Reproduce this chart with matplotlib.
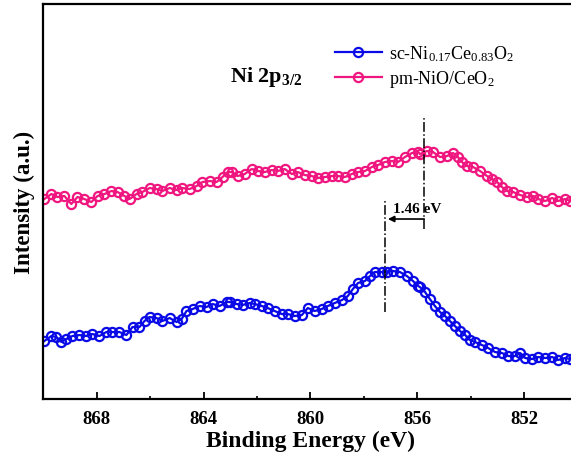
import matplotlib
matplotlib.use("Agg")
import matplotlib.pyplot as plt
from matplotlib.ticker import MultipleLocator

# binding energy (eV) and intensity (a.u.)
pm_energy = [
    869.96, 869.70, 869.47, 869.21, 868.95, 868.72, 868.46, 868.20, 867.97, 867.71,
    867.45, 867.22, 866.96, 866.77, 866.51, 866.29, 866.02, 865.76, 865.54, 865.27,
    865.01, 864.79, 864.52, 864.26, 864.04, 863.77, 863.51, 863.29, 863.10,
    862.95, 862.72, 862.46, 862.20, 861.97, 861.71, 861.45, 861.22, 860.96, 860.70,
    860.47, 860.21, 859.95, 859.72, 859.46, 859.20, 858.97, 858.71, 858.45, 858.22,
    857.96, 857.70, 857.47, 857.21, 856.95, 856.72, 856.46, 856.20, 855.97,
    855.90, 855.64, 855.41, 855.15, 854.89, 854.66, 854.48, 854.33, 854.14, 853.91,
    853.65, 853.39, 853.20, 853.01, 852.83, 852.64, 852.41, 852.15, 851.89, 851.66,
    851.48, 851.21, 850.95, 850.73, 850.46, 850.28,
]
pm_intensity = [
    200, 205, 202, 203, 195, 202, 200, 197, 203, 205,
    208, 207, 203, 200, 205, 207, 211, 210, 208, 211,
    209, 211, 210, 213, 217, 218, 217, 222, 227,
    227, 223, 225, 230, 228, 227, 229, 228, 230, 225,
    227, 224, 223, 221, 222, 223, 223, 222, 225, 227,
    228, 232, 234, 237, 238, 237, 242, 246, 247,
    245, 248, 247, 242, 243, 246, 242, 237, 233, 232,
    228, 223, 220, 217, 212, 208, 207, 204, 202, 203,
    200, 198, 201, 198, 200, 198,
]

sc_energy = [
    869.96, 869.70, 869.51, 869.32, 869.14, 868.91, 868.65, 868.39, 868.16, 867.90,
    867.64, 867.41, 867.15, 866.89, 866.66, 866.40, 866.21, 866.02, 865.76, 865.54,
    865.27, 865.01, 864.82, 864.64, 864.41, 864.15, 863.89, 863.66, 863.40, 863.14,
    863.02, 862.76, 862.54, 862.27, 862.09, 861.82, 861.60, 861.34, 861.07, 860.85,
    860.59, 860.32, 860.10, 859.84, 859.58, 859.35, 859.09, 858.82, 858.60, 858.41,
    858.22, 857.96, 857.77, 857.59, 857.32, 857.14, 856.91, 856.65, 856.39, 856.16,
    855.97,
    855.90, 855.71, 855.53, 855.34, 855.15, 854.96, 854.78, 854.59, 854.40, 854.21,
    854.03, 853.84, 853.58, 853.35, 853.09, 852.83, 852.60, 852.34, 852.15, 851.96,
    851.70, 851.48, 851.21, 850.95, 850.73, 850.46, 850.28,
]
sc_intensity = [
    58, 63, 62, 57, 60, 63, 64, 63, 65, 63,
    67, 67, 67, 64, 72, 72, 78, 82, 81, 78,
    81, 77, 80, 88, 90, 93, 92, 95, 93, 97,
    97, 95, 94, 96, 95, 93, 91, 88, 85, 85,
    83, 84, 91, 88, 90, 93, 96, 99, 103, 110,
    116, 118, 123, 127, 127, 127, 128, 127, 123, 118,
    113,
    112, 107, 100, 93, 87, 83, 78, 73, 68, 64,
    59, 57, 54, 51, 47, 46, 43, 43, 46, 41,
    40, 42, 41, 42, 39, 41, 40,
]

sc_peak = 857.20
pm_peak = 855.74
shift_label = "1.46 eV"

plt.rcParams["font.family"] = ["Liberation Serif", "DejaVu Serif"]
plt.rcParams["mathtext.fontset"] = "custom"
plt.rcParams["mathtext.rm"] = "Liberation Serif"
plt.rcParams["mathtext.it"] = "Liberation Serif:italic"
plt.rcParams["mathtext.bf"] = "Liberation Serif:bold"

BLUE = "#0A0AE6"
PINK = "#F0167F"

fig = plt.figure(figsize=(5.71, 4.64), dpi=100)
ax = fig.add_axes([0.0758, 0.1379, 0.9357, 0.8513])

marker_kw = dict(marker="o", markersize=6.6, markerfacecolor="none",
                 markeredgewidth=1.6, linewidth=1.6)
ax.plot(sc_energy, sc_intensity, color=BLUE,
        label=r"sc-Ni$_\mathregular{0.17}$Ce$_\mathregular{0.83}$O$_\mathregular{2}$",
        **marker_kw)
ax.plot(pm_energy, pm_intensity, color=PINK,
        label=r"pm-NiO/CeO$_\mathregular{2}$", **marker_kw)

# peak position markers and shift arrow
ax.plot([pm_peak, pm_peak], [170, 283], color="black", linestyle="-.", linewidth=1.1)
ax.plot([sc_peak, sc_peak], [87, 200], color="black", linestyle="-.", linewidth=1.1)
ax.annotate("", xy=(sc_peak - 0.1, 180), xytext=(pm_peak, 180),
            arrowprops=dict(arrowstyle="-|>", color="black", lw=1.2,
                            mutation_scale=9, shrinkA=0, shrinkB=0))
ax.text(856.9, 187, shift_label, fontsize=11, fontweight="bold", ha="left",
        va="baseline")

ax.set_xlim(870, 850)
ax.set_ylim(0, 395)
ax.xaxis.set_major_locator(MultipleLocator(4))
ax.xaxis.set_minor_locator(MultipleLocator(2))
ax.tick_params(axis="x", which="major", direction="in", length=5, width=1.3,
               labelsize=13.5, pad=8)
ax.tick_params(axis="x", which="minor", direction="in", length=2.5, width=1.2)
for lbl in ax.get_xticklabels():
    lbl.set_fontweight("bold")
ax.set_yticks([])

for side in ("left", "bottom", "top"):
    ax.spines[side].set_linewidth(1.6)
ax.spines["right"].set_visible(False)

ax.set_xlabel("Binding Energy (eV)", fontsize=17, fontweight="bold", labelpad=2)
ax.set_ylabel("Intensity (a.u.)", fontsize=16.5, fontweight="bold", labelpad=6)

fig.text(0.403, 0.834, r"$\mathbf{Ni\ 2p_{3/2}}$", fontsize=16, va="center",
         ha="left")

ax.legend(loc="upper left", bbox_to_anchor=(0.5867, 0.905),
          bbox_transform=fig.transFigure, frameon=False, fontsize=13,
          borderpad=0, borderaxespad=0, handlelength=2.6, handletextpad=0.4,
          labelspacing=0.3)

fig.savefig("out.png", dpi=100)
